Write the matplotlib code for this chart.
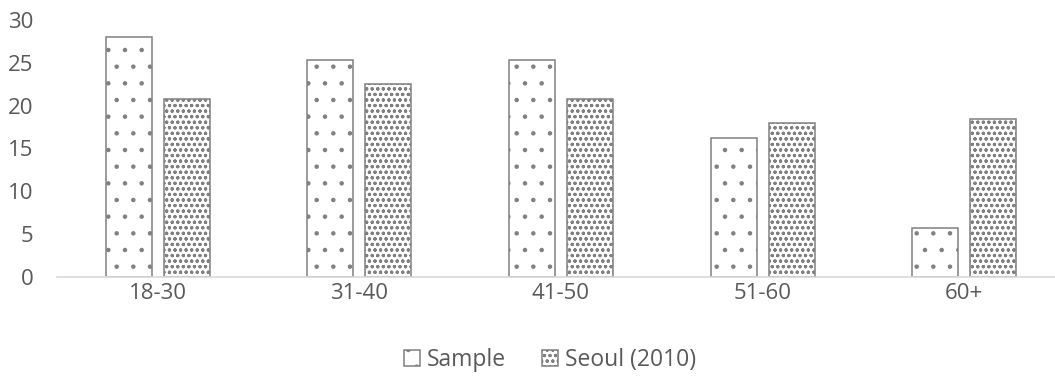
import numpy as np
import matplotlib
matplotlib.use('Agg')
import matplotlib.pyplot as plt

# age groups and shares (%)
categories = ['18-30', '31-40', '41-50', '51-60', '60+']
sample = [28.0, 25.3, 25.3, 16.2, 5.7]
seoul = [20.8, 22.5, 20.8, 18.0, 18.4]
yticks = [0, 5, 10, 15, 20, 25, 30]

plt.rcParams['font.family'] = ['Open Sans', 'DejaVu Sans']
plt.rcParams['hatch.linewidth'] = 0.8

text_col = '#595959'
edge_col = '#808080'

fig = plt.figure(figsize=(10.55, 3.83), dpi=100)
# axes in pixel terms: left 57, bottom at 277 from top, top at 20
ax = fig.add_axes([57 / 1055, (383 - 277) / 383, 1 - 57 / 1055, (277 - 20) / 383])

x = np.arange(len(categories))
w = 0.228
off = 0.144
ax.bar(x - off, sample, width=w, color='white', edgecolor=edge_col,
       linewidth=1.1, hatch='.', label='Sample')
ax.bar(x + off, seoul, width=w, color='white', edgecolor=edge_col,
       linewidth=1.1, hatch='ooo...', label='Seoul (2010)')

ax.set_xlim(-0.5, -0.5 + (1055 - 57) / 201.6)
ax.set_ylim(0, 30)
ax.set_yticks(yticks)
ax.set_xticks(x)
ax.set_xticklabels(categories)

for s in ['top', 'right', 'left']:
    ax.spines[s].set_visible(False)
ax.spines['bottom'].set_color('#d9d9d9')
ax.spines['bottom'].set_linewidth(1.2)

ax.tick_params(axis='y', length=0, pad=17, labelsize=16, labelcolor=text_col)
ax.tick_params(axis='x', length=0, pad=4, labelsize=16, labelcolor=text_col)

leg = fig.legend(loc='center', bbox_to_anchor=(550 / 1055, 1 - 360 / 383),
                 ncol=2, frameon=False, fontsize=16.5, handlelength=0.7,
                 handleheight=0.7, handletextpad=0.3, columnspacing=1.6)
for t in leg.get_texts():
    t.set_color(text_col)

plt.savefig('out.png', dpi=100)
plt.close()
